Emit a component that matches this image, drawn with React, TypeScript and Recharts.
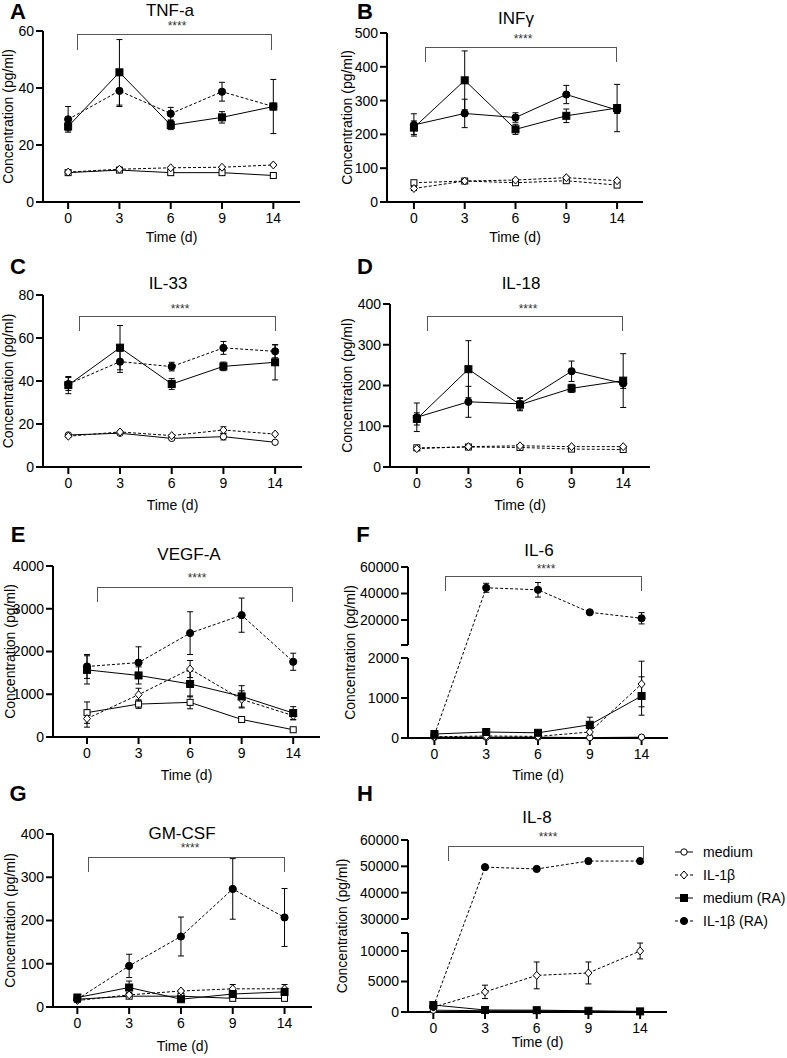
import React from 'react'
import { LineChart, Line, XAxis, YAxis, ErrorBar, ReferenceLine, Label } from 'recharts'

const FONT = '"Liberation Sans", Arial, Helvetica, sans-serif'

const days = ['0', '3', '6', '9', '14']

// A – TNF-a
const tnfMed = [10.3, 11.2, 10.3, 10.3, 9.3]
const tnfMedSd = [0.3, 0.3, 0.3, 0.3, 0.3]
const tnfIl1b = [10.5, 11.5, 12.0, 12.2, 13.0]
const tnfIl1bSd = [0.3, 0.3, 0.3, 0.3, 0.3]
const tnfMedRa = [26.5, 45.5, 27.0, 29.7, 33.5]
const tnfMedRaSd = [1.5, 11.5, 1.6, 2.0, 9.5]
const tnfIl1bRa = [29.0, 39.0, 31.0, 38.7, 33.5]
const tnfIl1bRaSd = [4.5, 5.5, 2.2, 3.3, 1.2]
const tnfTicks = [0, 20, 40, 60]

// B – INFγ
const infMed = [57, 62, 57, 63, 50]
const infMedSd = [4, 3, 4, 4, 3]
const infIl1b = [40, 62, 65, 72, 63]
const infIl1bSd = [6, 3, 3, 4, 3]
const infMedRa = [220, 360, 215, 255, 278]
const infMedRaSd = [20, 87, 15, 20, 70]
const infIl1bRa = [228, 262, 250, 318, 272]
const infIl1bRaSd = [33, 42, 14, 27, 10]
const infTicks = [0, 100, 200, 300, 400, 500]

// C – IL-33
const il33Med = [14.9, 15.7, 13.3, 14.1, 11.5]
const il33MedSd = [0.5, 0.5, 0.5, 1.5, 0.5]
const il33Il1b = [14.3, 16.3, 14.6, 17.2, 15.3]
const il33Il1bSd = [0.5, 0.5, 0.5, 1.5, 0.5]
const il33MedRa = [38.1, 55.5, 38.6, 46.8, 48.7]
const il33MedRaSd = [4, 10.3, 2.5, 2, 8.2]
const il33Il1bRa = [38.6, 49, 46.7, 55.4, 53.8]
const il33Il1bRaSd = [3, 5, 2, 3, 3]
const il33Ticks = [0, 20, 40, 60, 80]

// D – IL-18
const il18Med = [47, 49, 48, 44, 43]
const il18MedSd = [3, 2, 2, 2, 2]
const il18Il1b = [45, 50, 52, 50, 50]
const il18Il1bSd = [3, 2, 2, 2, 2]
const il18MedRa = [118, 240, 153, 193, 212]
const il18MedRaSd = [15, 70, 15, 10, 66]
const il18Il1bRa = [122, 160, 155, 235, 205]
const il18Il1bRaSd = [35, 38, 15, 25, 12]
const il18Ticks = [0, 100, 200, 300, 400]

// E – VEGF-A
const vegfMed = [570, 770, 810, 410, 170]
const vegfMedSd = [250, 100, 150, 30, 20]
const vegfIl1b = [430, 990, 1590, 880, 500]
const vegfIl1bSd = [200, 150, 200, 200, 100]
const vegfMedRa = [1570, 1440, 1240, 950, 560]
const vegfMedRaSd = [330, 200, 300, 250, 150]
const vegfIl1bRa = [1650, 1740, 2430, 2850, 1760]
const vegfIl1bRaSd = [280, 370, 500, 400, 200]
const vegfTicks = [0, 1000, 2000, 3000, 4000]

// F – IL-6 (broken axis)
const il6Med = [20, 20, 20, 10, 20]
const il6MedSd = [10, 10, 10, 5, 5]
const il6Il1b = [30, 50, 40, 150, 1350]
const il6Il1bSd = [10, 20, 20, 80, 570]
const il6MedRa = [100, 150, 130, 330, 1050]
const il6MedRaSd = [30, 30, 30, 190, 480]
const il6Il1bRa = [75, 44300, 42800, 25800, 21300]
const il6Il1bRaSd = [30, 3400, 5500, 500, 4250]
const il6Ticks = [0, 1000, 2000, 20000, 40000, 60000]

// G – GM-CSF
const gmMed = [18, 25, 25, 20, 20]
const gmMedSd = [3, 3, 3, 3, 3]
const gmIl1b = [15, 28, 37, 42, 42]
const gmIl1bSd = [3, 5, 3, 10, 10]
const gmMedRa = [22, 45, 18, 30, 35]
const gmMedRaSd = [3, 15, 3, 8, 8]
const gmIl1bRa = [18, 95, 163, 273, 207]
const gmIl1bRaSd = [5, 27, 45, 70, 67]
const gmTicks = [0, 100, 200, 300, 400]

// H – IL-8 (broken axis)
const il8Med = [300, 200, 200, 100, 50]
const il8MedSd = [100, 50, 50, 30, 20]
const il8Il1b = [800, 3300, 6000, 6400, 10000]
const il8Il1bSd = [300, 1100, 2200, 1800, 1300]
const il8MedRa = [1150, 330, 300, 200, 100]
const il8MedRaSd = [400, 100, 100, 50, 50]
const il8Il1bRa = [870, 49700, 49000, 52000, 52000]
const il8Il1bRaSd = [800, 300, 300, 200, 200]
const il8Ticks = [0, 5000, 10000, 30000, 40000, 50000, 60000]

type Shape = 'circle' | 'square' | 'diamond'

const SERIES = [
  { key: 'med', name: 'medium', shape: 'circle' as Shape, filled: false, dashed: false },
  { key: 'il1b', name: 'IL-1β', shape: 'diamond' as Shape, filled: false, dashed: true },
  { key: 'medRa', name: 'medium (RA)', shape: 'square' as Shape, filled: true, dashed: false },
  { key: 'il1bRa', name: 'IL-1β (RA)', shape: 'circle' as Shape, filled: true, dashed: true },
]

// broken axis: low part v*lowSlope, high part highAt + (v-highRef)*highSlope (display units = px)
type Brk = { lowMax: number; lowSlope: number; highRef: number; highAt: number; highSlope: number; segs: number[][]; cap: number }

const PANELS: any[] = [
  {
    letter: 'A', title: 'TNF-a', axisX: 43, axisEnd: 300, top: 31, bottom: 202, xDom: [-0.49, 4.52],
    ticks: tnfTicks, labelX: 8, timeDy: 35, letterPos: [18, 12], titlePos: [170, 10],
    bracket: [77, 272, 34, 50], stars: [177, 26], medShape: 'square', dash: { med: false, il1bRa: true },
    values: { med: [tnfMed, tnfMedSd], il1b: [tnfIl1b, tnfIl1bSd], medRa: [tnfMedRa, tnfMedRaSd], il1bRa: [tnfIl1bRa, tnfIl1bRaSd] },
  },
  {
    letter: 'B', title: 'INFγ', axisX: 387, axisEnd: 643, top: 33, bottom: 202, xDom: [-0.53, 4.51],
    ticks: infTicks, labelX: 347, timeDy: 35, letterPos: [365, 12], titlePos: [516, 18],
    bracket: [425, 617, 47, 62], stars: [523, 39], medShape: 'square', dash: { med: true, il1bRa: false },
    values: { med: [infMed, infMedSd], il1b: [infIl1b, infIl1bSd], medRa: [infMedRa, infMedRaSd], il1bRa: [infIl1bRa, infIl1bRaSd] },
  },
  {
    letter: 'C', title: 'IL-33', axisX: 43, axisEnd: 302, top: 295, bottom: 467, xDom: [-0.49, 4.52],
    ticks: il33Ticks, labelX: 8, timeDy: 38, letterPos: [18, 267], titlePos: [168, 283],
    bracket: [79, 276, 316, 331], stars: [180, 309], medShape: 'circle', dash: { med: false, il1bRa: true },
    values: { med: [il33Med, il33MedSd], il1b: [il33Il1b, il33Il1bSd], medRa: [il33MedRa, il33MedRaSd], il1bRa: [il33Il1bRa, il33Il1bRaSd] },
  },
  {
    letter: 'D', title: 'IL-18', axisX: 390, axisEnd: 650, top: 304, bottom: 467, xDom: [-0.52, 4.52],
    ticks: il18Ticks, labelX: 347, timeDy: 38, letterPos: [365, 267], titlePos: [521, 283],
    bracket: [427, 623, 316, 331], stars: [528, 309], medShape: 'square', dash: { med: true, il1bRa: false },
    values: { med: [il18Med, il18MedSd], il1b: [il18Il1b, il18Il1bSd], medRa: [il18MedRa, il18MedRaSd], il1bRa: [il18Il1bRa, il18Il1bRaSd] },
  },
  {
    letter: 'E', title: 'VEGF-A', axisX: 53, axisEnd: 320, top: 566, bottom: 737, xDom: [-0.66, 4.52],
    ticks: vegfTicks, labelX: 10, timeDy: 38, letterPos: [18, 535], titlePos: [189, 554],
    bracket: [97, 293, 587, 602], stars: [197, 578], medShape: 'square', dash: { med: false, il1bRa: true },
    values: { med: [vegfMed, vegfMedSd], il1b: [vegfIl1b, vegfIl1bSd], medRa: [vegfMedRa, vegfMedRaSd], il1bRa: [vegfIl1bRa, vegfIl1bRaSd] },
  },
  {
    letter: 'F', title: 'IL-6', axisX: 408, axisEnd: 668, top: 567, bottom: 738, xDom: [-0.51, 4.51],
    ticks: il6Ticks, labelX: 350, timeDy: 37, letterPos: [363, 535], titlePos: [539, 550],
    bracket: [445, 642, 576, 591], stars: [546, 569], medShape: 'circle', dash: { med: false, il1bRa: true },
    brk: { lowMax: 2000, lowSlope: 0.04, highRef: 20000, highAt: 118, highSlope: 0.001325, segs: [[0, 80], [93, 171]], cap: 93 } as Brk,
    values: { med: [il6Med, il6MedSd], il1b: [il6Il1b, il6Il1bSd], medRa: [il6MedRa, il6MedRaSd], il1bRa: [il6Il1bRa, il6Il1bRaSd] },
  },
  {
    letter: 'G', title: 'GM-CSF', axisX: 53, axisEnd: 312, top: 834, bottom: 1007, xDom: [-0.47, 4.53],
    ticks: gmTicks, labelX: 10, timeDy: 39, letterPos: [18, 794], titlePos: [182, 833],
    bracket: [88, 285, 857, 872], stars: [190, 848], medShape: 'square', dash: { med: false, il1bRa: true },
    values: { med: [gmMed, gmMedSd], il1b: [gmIl1b, gmIl1bSd], medRa: [gmMedRa, gmMedRaSd], il1bRa: [gmIl1bRa, gmIl1bRaSd] },
  },
  {
    letter: 'H', title: 'IL-8', axisX: 408, axisEnd: 667, top: 840, bottom: 1012, xDom: [-0.49, 4.52],
    ticks: il8Ticks, labelX: 342, timeDy: 30, letterPos: [365, 794], titlePos: [537, 817],
    bracket: [448, 644, 846, 861], stars: [548, 837], medShape: 'circle', dash: { med: false, il1bRa: true },
    brk: { lowMax: 13000, lowSlope: 0.0061, highRef: 30000, highAt: 93, highSlope: 0.002633, segs: [[0, 79], [93, 172]], cap: 79 } as Brk,
    values: { med: [il8Med, il8MedSd], il1b: [il8Il1b, il8Il1bSd], medRa: [il8MedRa, il8MedRaSd], il1bRa: [il8Il1bRa, il8Il1bRaSd] },
  },
]

function Marker({ cx, cy, shape, filled }: { cx?: number; cy?: number; shape: Shape; filled: boolean }) {
  if (cx == null || cy == null) return null
  const fill = filled ? '#000' : '#fff'
  if (shape === 'square') {
    const s = filled ? 7 : 6
    return <rect x={cx - s / 2} y={cy - s / 2} width={s} height={s} fill={fill} stroke="#000" strokeWidth={1} />
  }
  if (shape === 'diamond') {
    return <path d={`M${cx},${cy - 4}L${cx + 3.5},${cy}L${cx},${cy + 4}L${cx - 3.5},${cy}Z`} fill={fill} stroke="#000" strokeWidth={1} />
  }
  return <circle cx={cx} cy={cy} r={filled ? 3.6 : 3.2} fill={fill} stroke="#000" strokeWidth={1} />
}

function Txt({ x, y, size, bold, color, children }: any) {
  return (
    <div style={{
      position: 'absolute', left: x, top: y, transform: 'translate(-50%, -50%)', fontSize: size,
      fontWeight: bold ? 700 : 400, fontFamily: FONT, whiteSpace: 'nowrap', lineHeight: 1, color: color || '#000',
    }}>{children}</div>
  )
}

function Panel({ p }: { p: any }) {
  const L = 90, T = 10, R = 12, B = 50
  const w = p.axisEnd - p.axisX + L + R
  const h = p.bottom - p.top + T + B
  const brk: Brk | undefined = p.brk
  const tr = (v: number) => (!brk ? v : v <= brk.lowMax ? v * brk.lowSlope : brk.highAt + (v - brk.highRef) * brk.highSlope)

  const rows = days.map((_, i) => {
    const r: any = { i }
    for (const s of SERIES) {
      const [m, sd] = p.values[s.key]
      const y = tr(m[i])
      r[s.key] = y
      r[s.key + 'Err'] = [y - tr(Math.max(0, m[i] - sd[i])), tr(m[i] + sd[i]) - y]
    }
    return r
  })

  const tickVals: number[] = p.ticks.map(tr)
  const tickLabels: string[] = p.ticks.map(String)
  if (brk) { tickVals.push(brk.cap); tickLabels.push('') }
  const yTop = brk ? brk.segs[1][1] : p.ticks[p.ticks.length - 1]
  const axisStyle = { stroke: '#000', strokeWidth: 2 }
  const tickFont = { fontSize: 14, fill: '#000', fontFamily: FONT }

  return (
    <div style={{ position: 'absolute', left: p.axisX - L, top: p.top - T }}>
      <LineChart width={w} height={h} data={rows} margin={{ top: T, right: R, left: 0, bottom: 0 }}>
        <XAxis
          type="number" dataKey="i" domain={p.xDom} ticks={[0, 1, 2, 3, 4]} tickFormatter={(v) => days[v]}
          height={B} tickSize={7} tickMargin={4} axisLine={axisStyle} tickLine={axisStyle} tick={tickFont} interval={0}
        >
          <Label value="Time (d)" position="insideBottom" offset={B - p.timeDy - 5} style={tickFont} />
        </XAxis>
        <YAxis
          type="number" domain={[0, yTop]} ticks={tickVals} interval={0} width={L} tickSize={7} tickMargin={2}
          tickFormatter={(v) => tickLabels[tickVals.indexOf(v)] ?? ''}
          axisLine={brk ? false : axisStyle} tickLine={axisStyle} tick={tickFont}
        >
          <Label value="Concentration (pg/ml)" angle={-90} position="insideLeft" offset={p.labelX - p.axisX + L}
            style={{ ...tickFont, textAnchor: 'middle' }} />
        </YAxis>
        {brk && brk.segs.map(([a, b], k) => (
          <ReferenceLine key={k} segment={[{ x: p.xDom[0], y: a }, { x: p.xDom[0], y: b }]} stroke="#000" strokeWidth={2} ifOverflow="visible" />
        ))}
        {SERIES.map((s) => {
          const shape: Shape = s.key === 'med' ? p.medShape : s.shape
          const dashed = s.key === 'med' ? p.dash.med : s.key === 'il1bRa' ? p.dash.il1bRa : s.dashed
          return (
            <Line
              key={s.key} dataKey={s.key} name={s.name} type="linear" stroke="#000" strokeWidth={1}
              strokeDasharray={dashed ? '3 2' : undefined} activeDot={false} isAnimationActive={false}
              dot={(d: any) => <Marker key={`${s.key}-${d.index}`} cx={d.cx} cy={d.cy} shape={shape} filled={s.filled} />}
            >
              <ErrorBar dataKey={s.key + 'Err'} width={3} stroke="#000" strokeWidth={1} direction="y" isAnimationActive={false} />
            </Line>
          )
        })}
      </LineChart>
    </div>
  )
}

function Overlay({ p }: { p: any }) {
  const [l, r, t, b] = p.bracket
  return (
    <>
      <Txt x={p.letterPos[0]} y={p.letterPos[1]} size={22} bold>{p.letter}</Txt>
      <Txt x={p.titlePos[0]} y={p.titlePos[1]} size={17}>{p.title}</Txt>
      <div style={{
        position: 'absolute', left: l, top: t, width: r - l, height: b - t, boxSizing: 'border-box',
        borderTop: '1px solid #555', borderLeft: '1px solid #555', borderRight: '1px solid #555',
      }} />
      <Txt x={p.stars[0]} y={p.stars[1]} size={12} color="#333">****</Txt>
    </>
  )
}

function LegendBox() {
  const rows = [852, 875, 898, 921]
  return (
    <>
      {SERIES.map((s, k) => (
        <div key={s.key} style={{ position: 'absolute', left: 673, top: rows[k] - 8, height: 16, display: 'flex', alignItems: 'center' }}>
          <svg width={22} height={16}>
            <line x1={2} y1={8} x2={20} y2={8} stroke="#000" strokeWidth={1} strokeDasharray={s.dashed ? '3 2' : undefined} />
            <Marker cx={11} cy={8} shape={s.shape} filled={s.filled} />
          </svg>
          <span style={{ marginLeft: 8, fontSize: 14, fontFamily: FONT, whiteSpace: 'nowrap' }}>{s.name}</span>
        </div>
      ))}
    </>
  )
}

export default function App() {
  return (
    <div style={{ position: 'absolute', left: 0, top: 0, width: 787, height: 1058, background: '#fff', overflow: 'hidden' }}>
      {PANELS.map((p) => <Panel key={p.letter} p={p} />)}
      {PANELS.map((p) => <Overlay key={'o' + p.letter} p={p} />)}
      <LegendBox />
    </div>
  )
}
